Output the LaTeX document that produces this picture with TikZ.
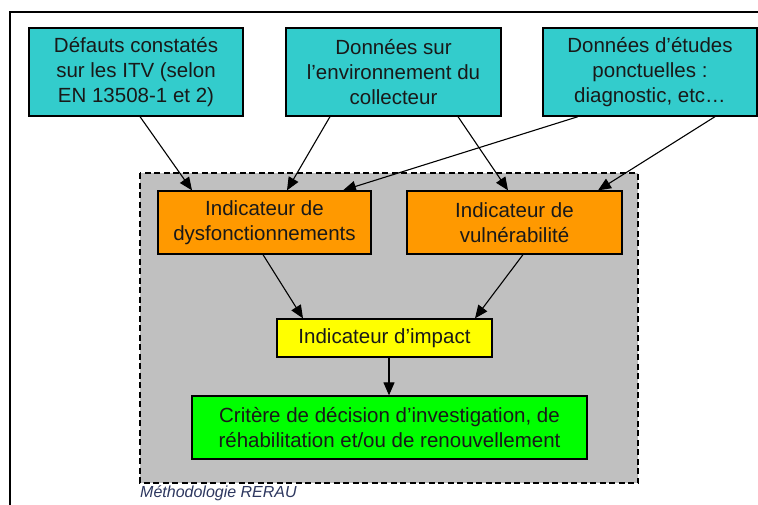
\documentclass[tikz,border=0pt]{standalone}
\usepackage{fontspec}
\setmainfont{Liberation Sans}
\usetikzlibrary{arrows.meta}
\definecolor{cyanbox}{RGB}{51,204,204}
\definecolor{orangebox}{RGB}{255,153,0}
\definecolor{yellowbox}{RGB}{255,255,0}
\definecolor{greenbox}{RGB}{0,255,0}
\definecolor{grayzone}{RGB}{192,192,192}
\definecolor{captioncol}{RGB}{45,55,95}
\tikzset{
  box/.style={draw=black, line width=1.3pt, align=center, inner sep=0pt,
    font=\fontsize{20.5}{25}\selectfont, text=black!90},
  databox/.style={box, fill=cyanbox, minimum width=214pt, minimum height=88pt},
  indbox/.style={box, fill=orangebox, minimum width=214pt, minimum height=63pt},
  arr/.style={line width=1.1pt, -{Triangle[length=13pt,width=11pt]}}
}
\begin{document}
\begin{tikzpicture}[x=1pt,y=-1pt]
\useasboundingbox (0,0) rectangle (758,504);
\clip (0,0) rectangle (758,504);
\fill[white] (0,0) rectangle (758,504);
% outer frame (left and top only visible)
\draw[line width=1.2pt] (10,520) -- (10,12) -- (780,12);
% grey dashed zone
\draw[fill=grayzone, dashed, dash pattern=on 6pt off 3.5pt, line width=1.3pt]
  (140,173) rectangle (638,483);
\node[anchor=base west, font=\fontsize{16}{18}\selectfont\itshape, text=captioncol, inner sep=0pt]
  (cap) at (140,497) {Méthodologie RERAU};
% data boxes
\node[databox] (b1) at (136,72) {Défauts constatés\\sur les ITV (selon\\EN 13508-1 et 2)};
\node[databox, minimum width=215pt] (b2) at (393.5,72) {Données sur\\l’environnement du\\collecteur};
\node[databox] (b3) at (650,72) {Données d’études\\ponctuelles :\\diagnostic, etc…};
% indicators
\node[indbox, minimum width=213pt] (o1) at (264.5,222.5) {Indicateur de\\dysfonctionnements};
\node[indbox, minimum width=215pt] (o2) at (514.5,222.5) {Indicateur de\\vulnérabilité};
\node[box, fill=yellowbox, minimum width=215pt, minimum height=38pt] (y) at (384.5,338) {Indicateur d’impact};
\node[box, fill=greenbox, minimum width=395pt, minimum height=63pt] (g) at (389.5,427.5)
  {Critère de décision d’investigation, de\\réhabilitation et/ou de renouvellement};
% connectors
\draw[arr] ([xshift=4]b1.south) -- ([xshift=-72.5]o1.north);
\draw[arr] ([xshift=-63.5]b2.south) -- ([xshift=22.5]o1.north);
\draw[arr] ([xshift=-72]b3.south) -- ([xshift=78.5]o1.north);
\draw[arr] ([xshift=64.5]b2.south) -- ([xshift=-6.5]o2.north);
\draw[arr] ([xshift=65]b3.south) -- ([xshift=83.5]o2.north);
\draw[arr] ([xshift=-1.5]o1.south) -- ([xshift=-81.5]y.north);
\draw[arr] ([xshift=8.5]o2.south) -- ([xshift=90.5]y.north);
\draw[arr] ([xshift=4.5]y.south) -- ([xshift=-0.5]g.north);
\end{tikzpicture}
\end{document}
